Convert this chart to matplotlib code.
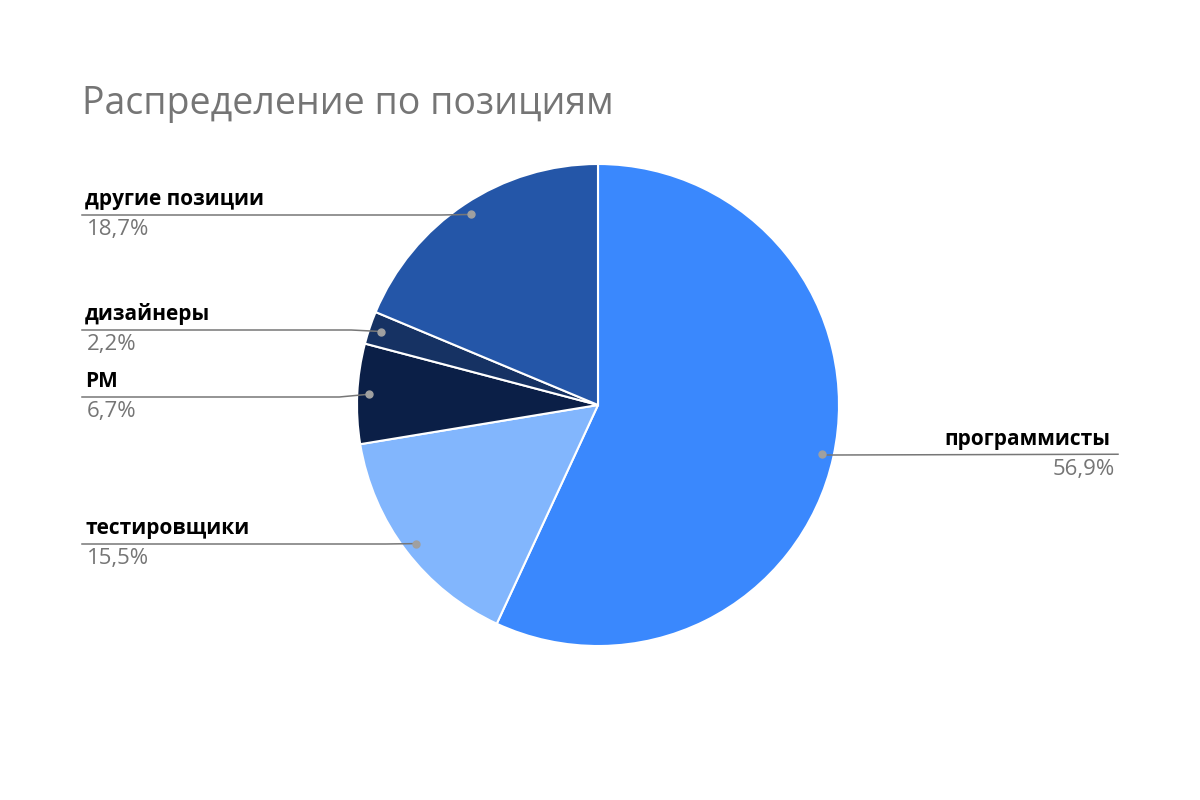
import numpy as np
import matplotlib.pyplot as plt

plt.rcParams['font.family'] = ['Open Sans', 'DejaVu Sans']

# данные
labels = ['программисты', 'тестировщики', 'PM', 'дизайнеры', 'другие позиции']
values = [56.9, 15.5, 6.7, 2.2, 18.7]
pct_text = ['56,9%', '15,5%', '6,7%', '2,2%', '18,7%']
colors = ['#3a88fd', '#82b6fd', '#0b1f47', '#163263', '#2456a8']

W, H = 1200, 800
fig = plt.figure(figsize=(12, 8), dpi=100)
ax = fig.add_axes([0, 0, 1, 1])
ax.set_xlim(0, W)
ax.set_ylim(0, H)
ax.set_aspect('equal')
ax.axis('off')

cx, cy, r = 598, H - 405, 241

wedges, _ = ax.pie(values, colors=colors, startangle=90, counterclock=False,
                   radius=r, center=(cx, cy),
                   wedgeprops=dict(edgecolor='white', linewidth=1.5))
ax.set_xlim(0, W)
ax.set_ylim(0, H)

# позиции подписей (y линии в пикселях, сторона)
line_y = [455, 544, 397, 330, 215]
side = ['right', 'left', 'left', 'left', 'left']

for w, lab, pct, ly, s in zip(wedges, labels, pct_text, line_y, side):
    ang = np.deg2rad((w.theta1 + w.theta2) / 2)
    dx = cx + 0.95 * r * np.cos(ang)
    dy = cy + 0.95 * r * np.sin(ang)
    y = H - ly
    if s == 'right':
        xs = [dx, dx + 12, 1118]
        tx, ha = 1110, 'right'
        px = 1115
    else:
        xs = [82, dx - 30, dx]
        tx, ha = 85, 'left'
        px = 87
    ax.plot(xs, [y, y, dy], color='#777777', lw=1.1, zorder=3)
    ax.plot(dx, dy, 'o', color='#a0a0a0', ms=5, zorder=4)
    ax.text(tx, y + 5, lab, ha=ha, va='bottom', fontsize=15,
            fontweight='bold', color='#000000')
    ax.text(px, y - 4, pct, ha=ha, va='top', fontsize=16, color='#757575')

ax.text(82, H - 104, 'Распределение по позициям', ha='left', va='center',
        fontsize=27, color='#757575')

fig.savefig('out.png', dpi=100, facecolor='white')
